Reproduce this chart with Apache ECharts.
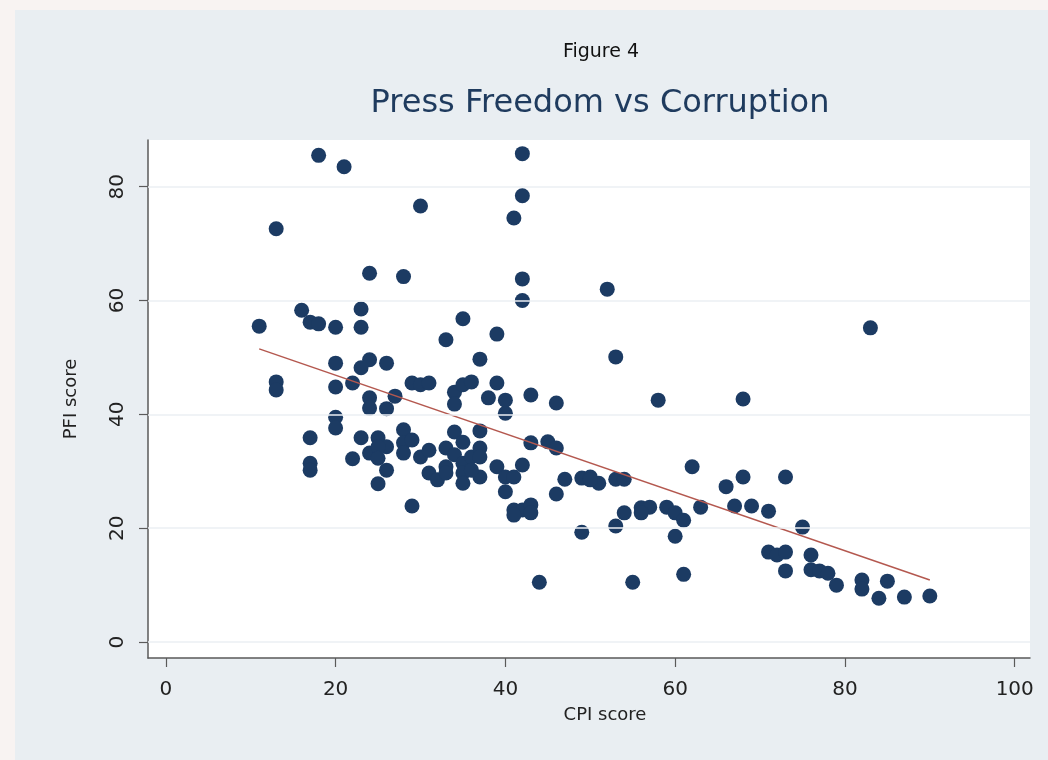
<!DOCTYPE html>
<html>
<head>
<meta charset="utf-8">
<script src="https://cdn.jsdelivr.net/npm/echarts@6/dist/echarts.min.js"></script>
<style>
  html, body { margin: 0; padding: 0; background: #f8f3f2; }
  #frame { position: absolute; left: 15px; top: 10px; width: 1033px; height: 750px; background: #e9eef2; }
  #chart { position: absolute; left: 0; top: 0; width: 1048px; height: 760px; }
</style>
</head>
<body>
<div id="frame"></div>
<div id="chart"></div>
<script>
// CPI score (x) and PFI score (y)
const cpi = [11,13,13,13,16,17,18,18,21,20,23,23,20,24,23,26,20,22,24,24,26,27,29,30,31,30,24,28,33,35,
  34,34,35,36,37,39,39,38,40,40,43,41,42,42,42,42,20,20,17,17,17,23,25,26,24,25,25,22,26,25,
  28,28,29,28,30,31,31,32,33,34,33,33,34,35,37,35,35,35,36,37,37,37,36,39,40,41,42,40,41,42,
  43,43,41,29,43,44,52,53,46,58,68,45,46,47,46,49,50,51,53,54,49,53,54,56,57,56,59,60,61,60,
  62,63,66,68,67,69,71,73,55,61,71,72,73,73,83,75,76,76,77,78,79,82,82,85,84,87,90,50];
const pfi = [55.5,72.6,45.7,44.3,58.3,56.2,55.9,85.5,83.5,55.3,58.5,55.3,49,49.6,48.2,49,44.8,45.5,42.9,41.1,
  41,43.2,45.5,45.2,45.5,76.6,64.8,64.2,53.1,56.8,43.9,41.8,45.2,45.7,49.7,54.1,45.5,42.9,42.5,40.2,
  43.4,74.5,78.4,85.8,63.8,60,39.5,37.6,35.9,31.4,30.2,35.9,35.9,34.3,33.2,34.3,32.3,32.2,30.2,27.8,
  37.3,35,35.5,33.2,32.5,33.7,29.7,28.5,34.1,32.9,30.8,29.7,36.9,35.1,37.1,31.4,29.7,27.9,32.5,34.1,
  32.5,29,30.2,30.8,29,29,31.1,26.4,23.2,23.2,24.1,22.7,22.3,23.9,35,10.5,62,50.1,42,42.5,
  42.7,35.2,34.1,28.6,26,28.8,29,27.9,28.6,28.6,19.3,20.4,22.7,23.6,23.7,22.7,23.7,22.7,21.4,18.6,
  30.8,23.7,27.3,29,23.9,23.9,23,29,10.5,11.9,15.8,15.3,15.8,12.5,55.2,20.2,15.3,12.7,12.5,12.1,
  10,10.9,9.3,10.7,7.7,7.9,8.1,28.5];
// fitted line end points
const trendX = [11, 90];
const trendY = [51.5, 10.9];
// tick labels
const xTicks = [0, 20, 40, 60, 80, 100];
const yTicks = [0, 20, 40, 60, 80];

const points = cpi.map((v, i) => [v, pfi[i]]);
const trend = trendX.map((v, i) => [v, trendY[i]]);

const chart = echarts.init(document.getElementById('chart'));
const font = 'DejaVu Sans, Verdana, sans-serif';
chart.setOption({
  animation: false,
  title: [
    { text: 'Figure 4', left: 596, top: 38, textAlign: 'center',
      textStyle: { fontFamily: font, fontSize: 19, fontWeight: 'normal', color: '#111' } },
    { text: 'Press Freedom vs Corruption', left: 595, top: 83, textAlign: 'center',
      textStyle: { fontFamily: font, fontSize: 32, fontWeight: 'normal', color: '#1f3b5e' } }
  ],
  grid: { left: 148, top: 140, width: 882, height: 518, show: true, backgroundColor: '#ffffff', borderWidth: 0 },
  xAxis: {
    type: 'value', min: -2.1, max: 101.8,
    name: 'CPI score', nameLocation: 'middle', nameGap: 48,
    nameTextStyle: { fontFamily: font, fontSize: 18, color: '#222', padding: [0, 0, 0, 32] },
    axisLine: { show: true, onZero: false, lineStyle: { color: '#5a5a5a', width: 1.5 } },
    axisTick: { show: true, customValues: xTicks, length: 9, lineStyle: { color: '#5a5a5a', width: 1.2 } },
    axisLabel: { customValues: xTicks, fontFamily: font, fontSize: 20, color: '#222', margin: 22 },
    splitLine: { show: false }
  },
  yAxis: {
    type: 'value', min: -2.8, max: 88.2,
    name: 'PFI score', nameLocation: 'middle', nameGap: 68, nameRotate: 90,
    nameTextStyle: { fontFamily: font, fontSize: 18, color: '#222' },
    axisLine: { show: true, onZero: false, lineStyle: { color: '#5a5a5a', width: 1.5 } },
    axisTick: { show: true, customValues: yTicks, length: 9, lineStyle: { color: '#5a5a5a', width: 1.2 } },
    axisLabel: { customValues: yTicks, rotate: 90, fontFamily: font, fontSize: 20, color: '#222', margin: 20 },
    splitLine: { show: false }
  },
  series: [
    {
      type: 'line', data: [], z: 1, silent: true,
      markLine: {
        silent: true, symbol: 'none', label: { show: false },
        lineStyle: { color: '#ebeff3', width: 1.5, type: 'solid' },
        data: yTicks.map(v => ({ yAxis: v }))
      }
    },
    {
      type: 'scatter', data: points, symbol: 'circle', symbolSize: 15, z: 3,
      itemStyle: { color: '#1c3b63', opacity: 1 }
    },
    {
      type: 'line', data: trend, symbol: 'none', z: 4,
      lineStyle: { color: '#b4584f', width: 1.5 }
    }
  ]
});
</script>
</body>
</html>
